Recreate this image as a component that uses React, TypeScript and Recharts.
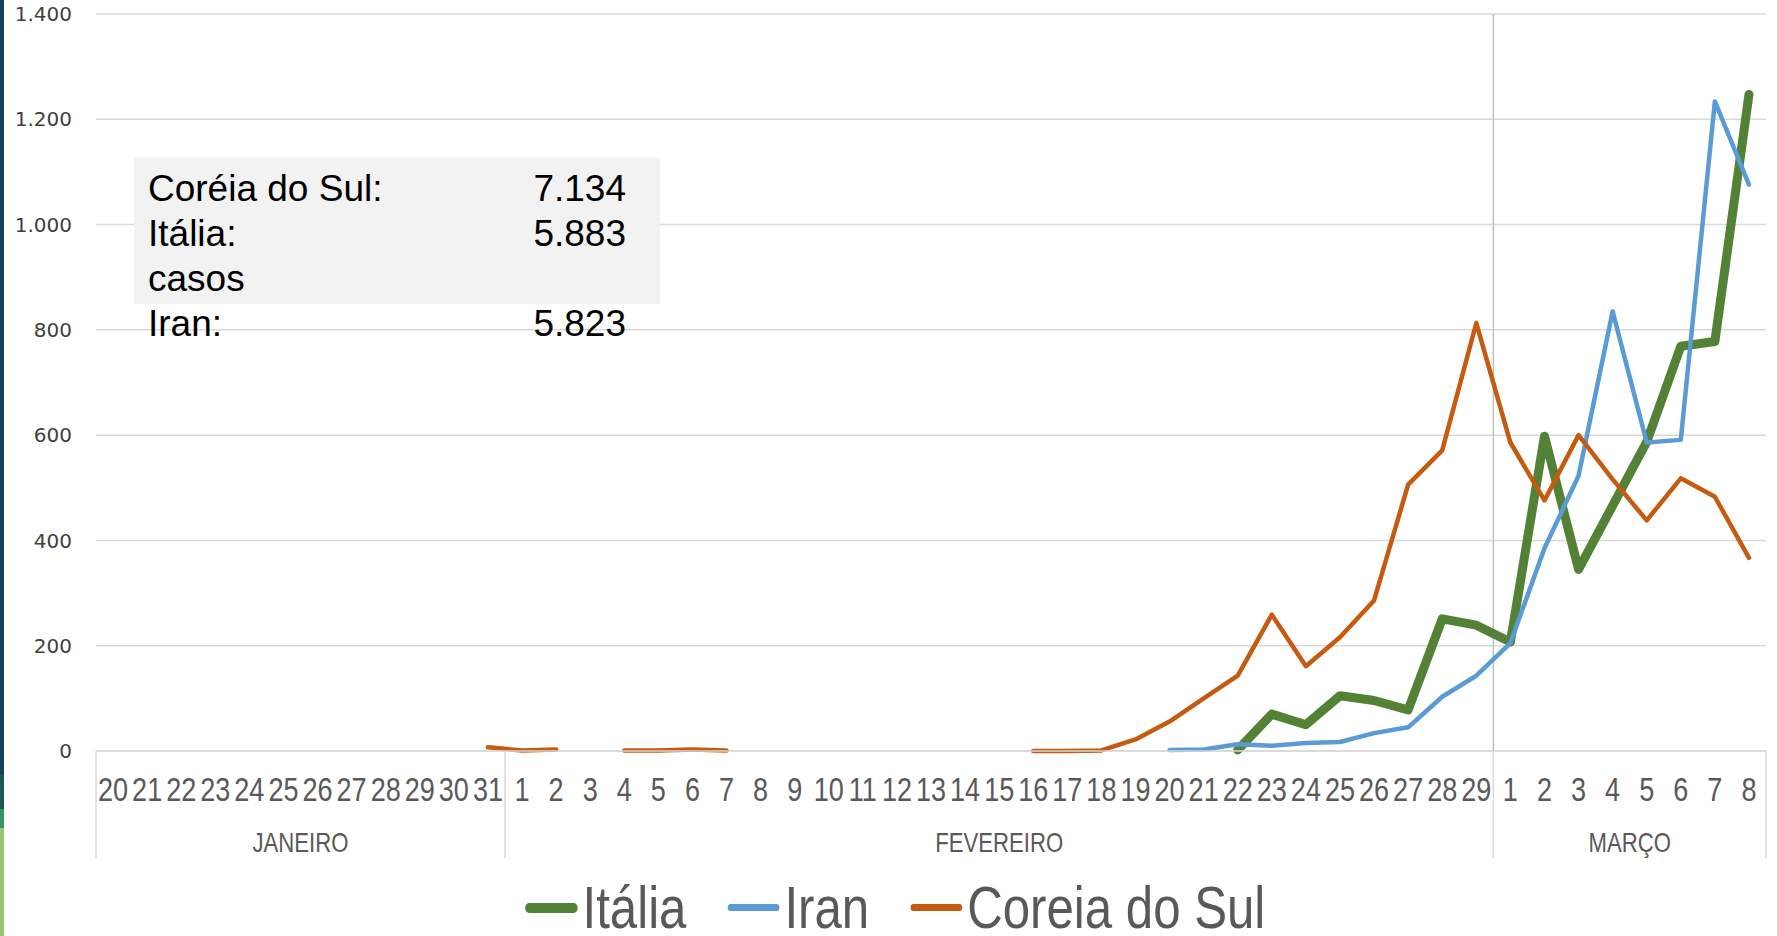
import React from 'react';
import { LineChart, Line, XAxis, YAxis, CartesianGrid, Legend, ReferenceLine } from 'recharts';

// categorias (dias por mês)
const meses = ['JANEIRO', 'FEVEREIRO', 'MARÇO'];
const diasJaneiro = ['20', '21', '22', '23', '24', '25', '26', '27', '28', '29', '30', '31'];
const diasFevereiro = ['1', '2', '3', '4', '5', '6', '7', '8', '9', '10', '11', '12', '13', '14', '15',
  '16', '17', '18', '19', '20', '21', '22', '23', '24', '25', '26', '27', '28', '29'];
const diasMarco = ['1', '2', '3', '4', '5', '6', '7', '8'];

// novos casos por dia (jan 20 -> mar 8), null = sem dado
const italia = [
  null, null, null, null, null, null, null, null, null, null, null, null, // jan 20-31
  null, null, null, null, null, null, null, null, null, null, null, null, null, null, null, // fev 1-15
  null, null, null, null, null, null, 2, 70, 50, 105, 96, 78, 251, 239, // fev 16-29
  207, 598, 345, 466, 587, 769, 778, 1247, // mar 1-8
];
const iran = [
  null, null, null, null, null, null, null, null, null, null, null, null,
  null, null, null, null, null, null, null, null, null, null, null, null, null, null, null,
  null, null, null, null, 2, 3, 13, 10, 15, 17, 34, 45, 103, 143,
  205, 385, 523, 835, 586, 591, 1234, 1076,
];
const coreia = [
  null, null, null, null, null, null, null, null, null, null, null, 7,
  1, 3, null, 1, 1, 3, 1, null, null, null, null, null, null, null, null,
  0, 0, 1, 22, 56, 100, 143, 259, 161, 216, 286, 506, 571, 813,
  586, 476, 600, 516, 438, 518, 483, 367,
];

const yTicks = [0, 200, 400, 600, 800, 1000, 1200, 1400];

const series = [
  { key: 'italia', name: 'Itália', color: '#538135', width: 9 },
  { key: 'iran', name: 'Iran', color: '#5b9bd5', width: 4.5 },
  { key: 'coreia', name: 'Coreia do Sul', color: '#c55a11', width: 4.5 },
];

const resumo = [
  ['Coréia do Sul:', '7.134'],
  ['Itália:', '5.883'],
  ['casos', ''],
  ['Iran:', '5.823'],
];

const W = 1777;
const H = 936;
const margin = { top: 14, right: 11, left: 0, bottom: 0 };
const Y_W = 96;
const AXIS_H = 107;
const LEGEND_H = 78;
const NARROW = 0.82; // Arial Narrow ~ Arial comprimida
const SANS = '"Liberation Sans", Arial, sans-serif';

const data: any[] = [];
[diasJaneiro, diasFevereiro, diasMarco].forEach((dias, m) => {
  dias.forEach((d, i) => {
    data.push({ key: `${m}-${d}`, dia: d, mes: m, primeiro: i === 0, n: dias.length });
  });
});
data.forEach((row, i) => {
  row.italia = italia[i];
  row.iran = iran[i];
  row.coreia = coreia[i];
});

const BAND = (W - margin.left - Y_W - margin.right) / data.length;

const fmt = (v: number) => String(v).replace(/\B(?=(\d{3})+(?!\d))/g, '.');

function DiaTick(props: any) {
  const { x, y, index } = props;
  const row = data[index];
  if (!row) return null;
  const half = BAND / 2;
  const mx = x - half + row.n * half;
  return (
    <g>
      <text transform={`translate(${x},${y + 39}) scale(${NARROW},1)`} textAnchor="middle" dominantBaseline="central" fontSize={33} fill="#595959" fontFamily={SANS}>
        {row.dia}
      </text>
      {row.primeiro && (
        <>
          <line x1={x - half} x2={x - half} y1={y} y2={y + AXIS_H} stroke="#d9d9d9" strokeWidth={1.5} />
          <text transform={`translate(${mx},${y + 92}) scale(${NARROW},1)`} textAnchor="middle" dominantBaseline="central" fontSize={27} fill="#595959" fontFamily={SANS}>
            {meses[row.mes]}
          </text>
        </>
      )}
      {index === data.length - 1 && (
        <line x1={x + half} x2={x + half} y1={y} y2={y + AXIS_H} stroke="#d9d9d9" strokeWidth={1.5} />
      )}
    </g>
  );
}

function Legenda(props: any) {
  const order = series.map((s) => s.name);
  const items = [...(props.payload || [])].sort((a: any, b: any) => order.indexOf(a.value) - order.indexOf(b.value));
  const k = 1 / NARROW;
  return (
    <div style={{ width: W, height: LEGEND_H, position: 'relative' }}>
      <div style={{ position: 'absolute', left: 0, top: 15, width: W, display: 'flex', justifyContent: 'center', transform: `translateX(7px) scale(${NARROW},1)`, transformOrigin: '888px 0' }}>
        {items.map((it: any, i: number) => {
          const s = series.find((x) => x.name === it.value);
          return (
            <div key={it.value} style={{ display: 'flex', alignItems: 'center', marginRight: i < items.length - 1 ? 41 * k : 0 }}>
              <span style={{ display: 'inline-block', width: 52 * k, height: s && s.width > 5 ? 10 : 7, borderRadius: 5, background: it.color, marginRight: 5 * k }} />
              <span style={{ fontFamily: SANS, fontSize: 60, color: '#595959', lineHeight: '69px' }}>{it.value}</span>
            </div>
          );
        })}
      </div>
    </div>
  );
}

export default function App() {
  return (
    <div style={{ position: 'absolute', left: 0, top: 0, width: W, height: H, background: '#fff', overflow: 'hidden' }}>
      <div style={{ position: 'absolute', left: 0, top: 0, width: 4, height: 775, background: '#17405a' }} />
      <div style={{ position: 'absolute', left: 0, top: 775, width: 4, height: 34, background: '#1b5a50' }} />
      <div style={{ position: 'absolute', left: 0, top: 809, width: 4, height: 19, background: '#3a9466' }} />
      <div style={{ position: 'absolute', left: 0, top: 828, width: 4, height: 108, background: '#9cc374' }} />
      <LineChart width={W} height={H} data={data} margin={margin}>
        <CartesianGrid vertical={false} stroke="#d9d9d9" strokeWidth={1.5} />
        <XAxis
          dataKey="key"
          scale="band"
          interval={0}
          height={AXIS_H}
          tickSize={0}
          tickMargin={0}
          tickLine={false}
          axisLine={{ stroke: '#d9d9d9', strokeWidth: 1.5 }}
          tick={<DiaTick />}
        />
        <YAxis
          width={Y_W}
          domain={[0, 1400]}
          ticks={yTicks}
          tickFormatter={fmt}
          axisLine={false}
          tickLine={false}
          tickSize={0}
          tickMargin={24}
          tick={{ fontSize: 20, fill: '#404040', fontFamily: '"DejaVu Sans", sans-serif' }}
        />
        <ReferenceLine x="2-1" position="start" stroke="#bfbfbf" strokeWidth={1.5} />
        <Legend verticalAlign="bottom" content={<Legenda />} wrapperStyle={{ margin: 0, padding: 0 }} />
        {series.map((s) => (
          <Line
            key={s.key}
            name={s.name}
            dataKey={s.key}
            stroke={s.color}
            strokeWidth={s.width}
            dot={false}
            activeDot={false}
            strokeLinejoin="round"
            strokeLinecap="round"
            isAnimationActive={false}
          />
        ))}
      </LineChart>
      <div style={{ position: 'absolute', left: 134, top: 158, width: 526, height: 146, background: '#f2f2f2' }} />
      <div style={{ position: 'absolute', left: 148, top: 166, width: 478, fontFamily: SANS, fontSize: 37, color: '#000', lineHeight: '45px' }}>
        {resumo.map(([k, v]) => (
          <div key={k} style={{ display: 'flex', justifyContent: 'space-between' }}>
            <span>{k}</span>
            <span>{v}</span>
          </div>
        ))}
      </div>
    </div>
  );
}
